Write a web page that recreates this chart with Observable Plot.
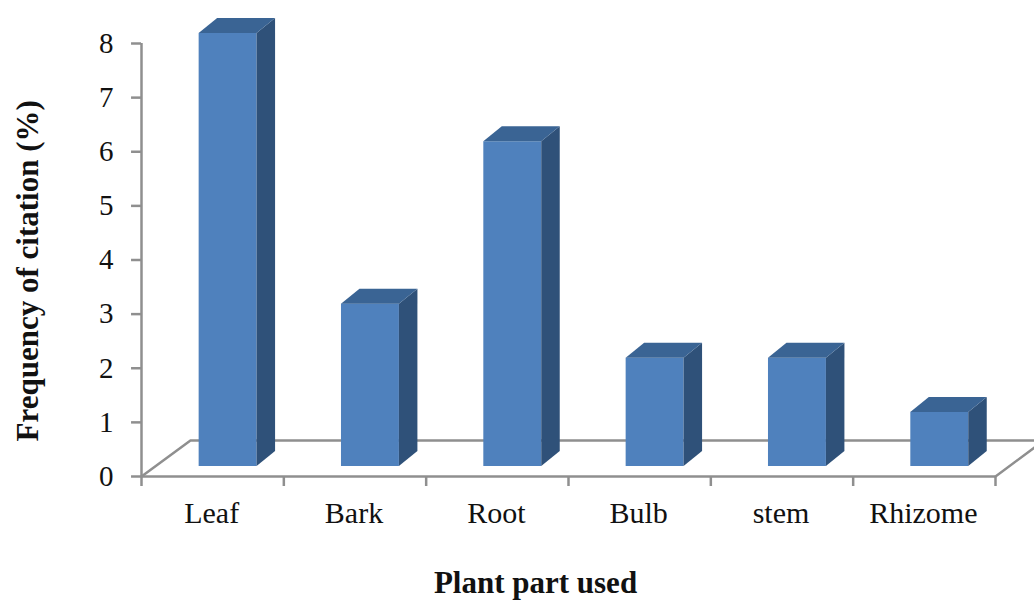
<!DOCTYPE html>
<html>
<head>
<meta charset="utf-8">
<script src="https://cdn.jsdelivr.net/npm/d3@7"></script>
<script src="https://cdn.jsdelivr.net/npm/@observablehq/plot@0.6"></script>
<style>html,body{margin:0;padding:0;background:#fff;overflow:hidden}svg{display:block}</style>
</head>
<body>
<div id="chart"></div>
<script>
const parts = ["Leaf", "Bark", "Root", "Bulb", "stem", "Rhizome"];
const freq = [8, 3, 6, 2, 2, 1];
const yTicks = [0, 1, 2, 3, 4, 5, 6, 7, 8];
const xTicks = [0, 1, 2, 3, 4, 5, 6];

const table = parts.map((p, i) => ({part: p, pos: i, value: freq[i]}));
const barStart = 0.405, barEnd = 0.812;
const floorX = 0.344, floorY = 0.665, floorRightX = 6.274, floorRightY = 0.536;
const tickLenX = 0.07, tickLenY = 0.185;
const depthX = 18.5, depthY = 15, lift = -10;
const grey = "#8f8f8f", serif = "'Liberation Serif', serif";

function extrude(index, scales, values, dimensions, context, next) {
  const g = next(index, scales, values, dimensions, context);
  const ns = "http://www.w3.org/2000/svg";
  const add = (pts, fill) => {
    const el = document.createElementNS(ns, "polygon");
    el.setAttribute("points", pts.map(p => p.join(",")).join(" "));
    el.setAttribute("fill", fill);
    g.appendChild(el);
  };
  for (const i of index) {
    const l = values.x1[i], r = values.x2[i], t = values.y2[i], b = values.y1[i];
    add([[r, t], [r + depthX, t - depthY], [r + depthX, b - depthY], [r, b]], "#2f5179");
    add([[l, t], [l + depthX, t - depthY], [r + depthX, t - depthY], [r, t]], "#3a6494");
  }
  return g;
}

const plot = Plot.plot({
  width: 1034,
  height: 601,
  marginLeft: 141,
  marginRight: 39,
  marginTop: 43,
  marginBottom: 125,
  style: {background: "#fff", fontFamily: serif, overflow: "hidden"},
  x: {type: "linear", domain: [0, 6], axis: null},
  y: {type: "linear", domain: [0, 8], axis: null},
  marks: [
    // chart floor
    Plot.line([[0, 0], [floorX, floorY], [floorRightX, floorY]], {x: d => d[0], y: d => d[1], stroke: grey, strokeWidth: 2.5}),
    Plot.line([[6, 0], [floorRightX, floorRightY]], {x: d => d[0], y: d => d[1], stroke: grey, strokeWidth: 2.5}),
    // axis lines and ticks
    Plot.ruleY([0], {x1: 0, x2: 6, stroke: grey, strokeWidth: 2.5}),
    Plot.ruleX([0], {y1: 0, y2: 8, stroke: grey, strokeWidth: 2.5}),
    Plot.ruleY(yTicks, {x1: -tickLenX, x2: 0, stroke: grey, strokeWidth: 2.5}),
    Plot.ruleX(xTicks, {y1: -tickLenY, y2: 0, stroke: grey, strokeWidth: 2.5}),
    // bars
    Plot.rectY(table, {
      x1: d => d.pos + barStart,
      x2: d => d.pos + barEnd,
      y1: 0,
      y2: "value",
      fill: "#4f81bd",
      dy: lift,
      render: extrude
    }),
    // labels
    Plot.text(yTicks, {x: 0, y: d => d, text: d => String(d), textAnchor: "end", dx: -28, fontSize: 29, fill: "#111", fontFamily: serif}),
    Plot.text(table, {x: d => d.pos + 0.5, y: 0, text: "part", dx: -1, dy: 37, fontSize: 30, fill: "#111", fontFamily: serif, letterSpacing: "0.5px"}),
    Plot.text(["Plant part used"], {x: 3, y: 0, dx: -33, dy: 107, fontSize: 31, fontWeight: "bold", fill: "#111", fontFamily: serif}),
    Plot.text(["Frequency of citation (%)"], {x: 0, y: 3.8, dx: -113, rotate: -90, fontSize: 31, fontWeight: "bold", fill: "#111", fontFamily: serif})
  ]
});
document.getElementById("chart").appendChild(plot);
</script>
</body>
</html>
